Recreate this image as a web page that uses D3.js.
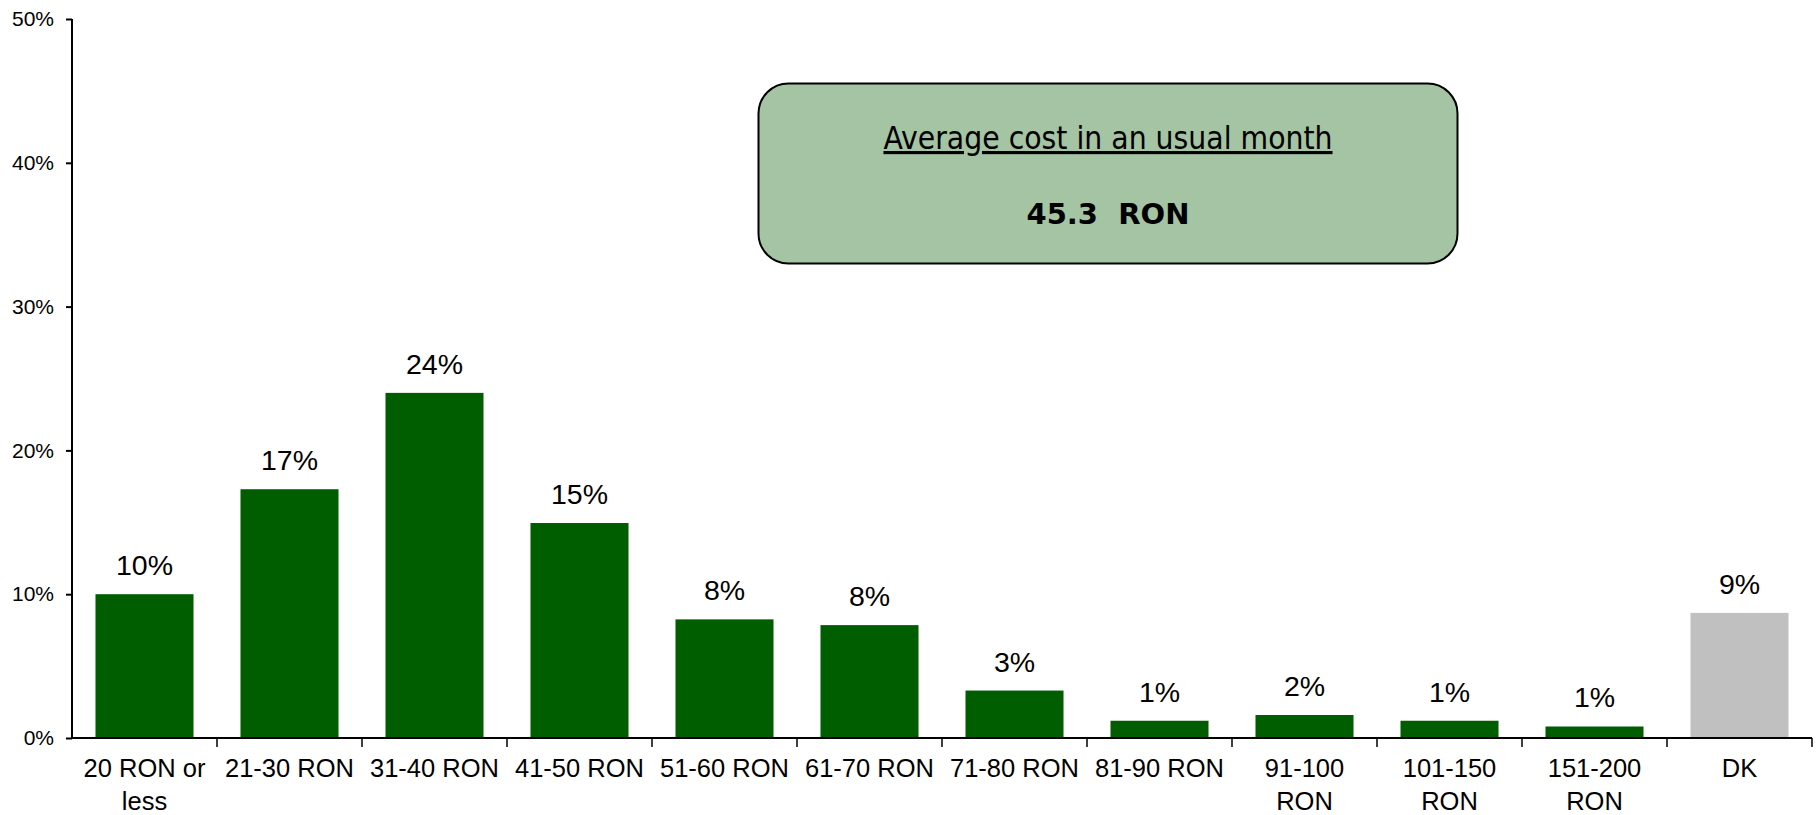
<!DOCTYPE html>
<html>
<head>
<meta charset="utf-8">
<script src="https://cdn.jsdelivr.net/npm/d3@7"></script>
<style>
  body { margin: 0; background: #fff; }
  svg { display: block; }
  text { font-family: "Liberation Sans", Arial, sans-serif; fill: #000; }
</style>
</head>
<body>
<div id="chart"></div>
<script>
// chart values
const categories = [
  ["20 RON or", "less"], ["21-30 RON"], ["31-40 RON"], ["41-50 RON"],
  ["51-60 RON"], ["61-70 RON"], ["71-80 RON"], ["81-90 RON"],
  ["91-100", "RON"], ["101-150", "RON"], ["151-200", "RON"], ["DK"]
];
const values = [10.0, 17.3, 24.0, 14.95, 8.25, 7.85, 3.3, 1.2, 1.6, 1.2, 0.8, 8.7];
const valueLabels = ["10%", "17%", "24%", "15%", "8%", "8%", "3%", "1%", "2%", "1%", "1%", "9%"];
const yTicks = [0, 10, 20, 30, 40, 50];
const boxTitle = "Average cost in an usual month";
const boxValue = "45.3  RON";

const width = 1816, height = 815;
const margin = {left: 72, right: 1812, top: 19, bottom: 738};

const svg = d3.select("#chart")
    .append("svg")
    .attr("width", width)
    .attr("height", height);

const ids = categories.map((d, i) => i);

const pad = 0.324;
const x = d3.scaleBand()
    .domain(ids)
    .range([margin.left, margin.right])
    .paddingInner(pad)
    .paddingOuter(pad / 2);

const y = d3.scaleLinear()
    .domain([0, 50])
    .range([margin.bottom, margin.top]);

// bars
svg.append("g")
    .selectAll("rect")
    .data(values)
    .join("rect")
    .attr("x", (d, i) => x(i))
    .attr("y", d => y(d))
    .attr("width", x.bandwidth())
    .attr("height", d => y(0) - y(d))
    .attr("fill", (d, i) => i === values.length - 1 ? "#c0c0c0" : "#005e00");

// value labels
svg.append("g")
    .selectAll("text")
    .data(values)
    .join("text")
    .attr("x", (d, i) => x(i) + x.bandwidth() / 2)
    .attr("y", d => y(d) - 19)
    .attr("text-anchor", "middle")
    .style("font-size", "28.5px")
    .text((d, i) => valueLabels[i]);

// y axis
const yAxis = svg.append("g")
    .attr("transform", `translate(${margin.left},0)`)
    .call(d3.axisLeft(y).tickValues(yTicks).tickFormat(d => d + "%").tickSize(6).tickPadding(12));
yAxis.select(".domain").attr("d", `M0,${margin.top}V${margin.bottom}`).attr("stroke-width", 2);
yAxis.selectAll(".tick line").attr("stroke-width", 2);
yAxis.selectAll(".tick text")
    .style("font-size", "21px")
    .style("font-family", "'Liberation Sans', Arial, sans-serif")
    .attr("fill", "#000");

// x axis: line + ticks at band boundaries
const step = x.step();
const boundaries = ids.map(i => x(i) - step * pad / 2 + step);
const xg = svg.append("g");
xg.append("line")
    .attr("x1", margin.left).attr("x2", margin.right)
    .attr("y1", y(0)).attr("y2", y(0))
    .attr("stroke", "#000").attr("stroke-width", 2);
xg.selectAll("line.tk")
    .data(boundaries)
    .join("line")
    .attr("class", "tk")
    .attr("x1", d => d).attr("x2", d => d)
    .attr("y1", y(0)).attr("y2", y(0) + 9)
    .attr("stroke", "#000").attr("stroke-width", 1.5);

xg.selectAll("text")
    .data(categories)
    .join("text")
    .attr("text-anchor", "middle")
    .attr("x", (d, i) => x(i) + x.bandwidth() / 2)
    .attr("y", 777)
    .style("font-size", "25.5px")
    .each(function(d) {
        const t = d3.select(this);
        d.forEach((line, j) => {
            t.append("tspan")
                .attr("x", t.attr("x"))
                .attr("dy", j === 0 ? 0 : 33)
                .text(line);
        });
    });

// annotation box
const box = svg.append("g");
box.append("rect")
    .attr("x", 758.5).attr("y", 83.5)
    .attr("width", 699).attr("height", 180)
    .attr("rx", 30).attr("ry", 30)
    .attr("fill", "#a4c4a4")
    .attr("stroke", "#000")
    .attr("stroke-width", 2);
box.append("text")
    .attr("x", 1108).attr("y", 149)
    .attr("text-anchor", "middle")
    .style("font-family", "'DejaVu Sans Condensed', 'DejaVu Sans', sans-serif")
    .style("font-stretch", "condensed")
    .style("font-size", "31.5px")
    .style("text-decoration", "underline")
    .text(boxTitle);
box.append("text")
    .attr("x", 1108).attr("y", 224)
    .attr("text-anchor", "middle")
    .style("font-family", "'DejaVu Sans', sans-serif")
    .style("font-weight", "bold")
    .style("font-size", "29px")
    .style("white-space", "pre")
    .text(boxValue);
</script>
</body>
</html>
